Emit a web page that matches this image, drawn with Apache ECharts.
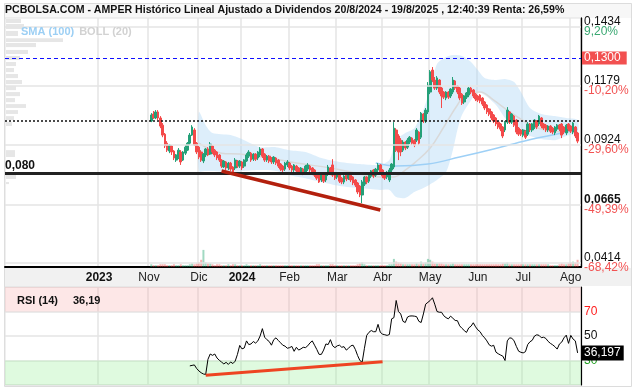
<!DOCTYPE html>
<html><head><meta charset="utf-8">
<script src="https://cdn.jsdelivr.net/npm/echarts@6/dist/echarts.min.js"></script>
<style>html,body{margin:0;padding:0;background:#fff}#c{width:636px;height:390px}</style>
</head><body><div id="c"></div>
<script>
// ---------------- DATA ----------------
const titleText = 'PCBOLSA.COM - AMPER Histórico Lineal Ajustado a Dividendos 20/8/2024 - 19/8/2025 , 12:40:39 Renta: 26,59%';
const slotCount = 254;                       // trading-day slots on the time axis
const monthStarts = [41, 63, 85, 104, 125, 146, 166, 187, 208, 228, 249];
const monthLabels = ['2023', 'Nov', 'Dic', '2024', 'Feb', 'Mar', 'Abr', 'May', 'Jun', 'Jul', 'Ago'];
const firstCandle = 64;
// [open, close, low, high]
const candles = [
[.1028,.1054,.1023,.1062],[.1058,.1041,.1036,.1071],[.1041,.1067,.1036,.1075],[.1067,.1041,.1032,.1075],
[.1041,.1006,.0997,.1049],[.1010,.0967,.0958,.1019],[.0971,.0920,.0911,.0976],[.0932,.0902,.0894,.0941],
[.0898,.0924,.0889,.0928],[.0920,.0894,.0881,.0924],[.0898,.0868,.0859,.0902],[.0859,.0881,.0851,.0885],
[.0872,.0902,.0863,.0911],[.0894,.0851,.0838,.0902],[.0859,.0894,.0855,.0898],[.0889,.0915,.0881,.0924],
[.0902,.0932,.0898,.0937],[.0932,.0967,.0924,.0976],[.0967,.1002,.0963,.1010],[.0989,.0924,.0920,.0997],
[.0932,.0894,.0885,.0937],[.0915,.0872,.0863,.0920],[.0894,.0859,.0851,.0902],[.0855,.0885,.0846,.0889],
[.0881,.0907,.0872,.0911],[.0907,.0881,.0876,.0915],[.0885,.0928,.0881,.0937],[.0920,.0894,.0885,.0924],
[.0902,.0881,.0872,.0907],[.0894,.0868,.0859,.0898],[.0881,.0859,.0851,.0885],[.0859,.0833,.0825,.0863],
[.0829,.0855,.0825,.0859],[.0851,.0825,.0816,.0855],[.0825,.0846,.0816,.0851],[.0846,.0820,.0812,.0851],
[.0829,.0807,.0799,.0833],[.0825,.0859,.0816,.0868],[.0855,.0833,.0825,.0859],[.0833,.0855,.0825,.0859],
[.0851,.0825,.0816,.0855],[.0833,.0859,.0825,.0863],[.0855,.0881,.0851,.0889],[.0876,.0894,.0868,.0902],
[.0889,.0859,.0851,.0894],[.0863,.0885,.0855,.0889],[.0885,.0863,.0855,.0889],[.0868,.0894,.0859,.0898],
[.0881,.0907,.0872,.0915],[.0907,.0876,.0868,.0911],[.0885,.0859,.0851,.0889],[.0859,.0876,.0851,.0881],
[.0876,.0855,.0846,.0881],[.0868,.0851,.0842,.0872],[.0851,.0872,.0842,.0876],[.0868,.0846,.0838,.0872],
[.0859,.0833,.0825,.0863],[.0842,.0820,.0812,.0846],[.0833,.0816,.0807,.0838],[.0820,.0846,.0812,.0851],
[.0838,.0851,.0829,.0859],[.0846,.0825,.0816,.0851],[.0833,.0816,.0807,.0838],[.0816,.0838,.0807,.0842],
[.0833,.0812,.0803,.0838],[.0825,.0807,.0799,.0829],[.0807,.0825,.0799,.0829],[.0820,.0803,.0794,.0825],
[.0807,.0833,.0799,.0838],[.0820,.0838,.0812,.0846],[.0833,.0816,.0807,.0838],[.0825,.0803,.0794,.0829],
[.0816,.0794,.0786,.0820],[.0803,.0781,.0773,.0807],[.0799,.0764,.0760,.0803],[.0773,.0799,.0764,.0803],
[.0799,.0768,.0760,.0803],[.0773,.0799,.0764,.0803],[.0799,.0829,.0790,.0838],[.0825,.0803,.0794,.0829],
[.0838,.0794,.0786,.0863],[.0803,.0781,.0773,.0807],[.0786,.0803,.0777,.0807],[.0803,.0768,.0760,.0807],
[.0781,.0764,.0755,.0786],[.0764,.0790,.0755,.0794],[.0794,.0777,.0768,.0799],[.0781,.0799,.0773,.0803],
[.0794,.0773,.0764,.0799],[.0786,.0760,.0751,.0790],[.0773,.0751,.0743,.0777],[.0760,.0721,.0712,.0764],
[.0747,.0708,.0699,.0751],[.0708,.0764,.0673,.0773],[.0755,.0786,.0747,.0790],[.0786,.0764,.0755,.0790],
[.0768,.0799,.0760,.0803],[.0790,.0812,.0781,.0816],[.0816,.0790,.0781,.0820],[.0794,.0820,.0786,.0825],
[.0816,.0838,.0807,.0846],[.0838,.0807,.0799,.0842],[.0816,.0790,.0781,.0820],[.0803,.0781,.0773,.0807],
[.0786,.0807,.0777,.0812],[.0773,.0816,.0764,.0825],[.0816,.0842,.0807,.0846],[.0829,.0997,.0820,.1023],
[.0989,.0902,.0894,.0997],[.0963,.0894,.0859,.0971],[.0945,.0894,.0876,.0954],[.0902,.0937,.0894,.0945],
[.0937,.0911,.0902,.0941],[.0915,.0945,.0907,.0954],[.0937,.0958,.0928,.0963],[.0954,.0932,.0924,.0958],
[.0945,.0924,.0915,.0950],[.0945,.0989,.0937,.0997],[.0980,.0932,.0924,.0984],[.0958,.1062,.0950,.1067],
[.1058,.1028,.1019,.1062],[.1028,.1075,.1019,.1084],[.1067,.1183,.1058,.1196],[.1153,.1240,.1144,.1248],
[.1248,.1205,.1196,.1261],[.1205,.1170,.1162,.1218],[.1170,.1214,.1162,.1222],[.1205,.1153,.1144,.1209],
[.1170,.1136,.1084,.1175],[.1153,.1131,.1123,.1157],[.1127,.1153,.1118,.1157],[.1153,.1131,.1123,.1157],
[.1136,.1166,.1127,.1170],[.1153,.1205,.1144,.1218],[.1201,.1170,.1162,.1205],[.1179,.1153,.1144,.1183],
[.1170,.1127,.1118,.1175],[.1144,.1105,.1097,.1149],[.1110,.1136,.1101,.1140],[.1131,.1149,.1123,.1153],
[.1140,.1170,.1131,.1175],[.1170,.1153,.1144,.1175],[.1162,.1136,.1127,.1166],[.1144,.1123,.1114,.1149],
[.1136,.1118,.1110,.1140],[.1140,.1114,.1105,.1144],[.1127,.1101,.1093,.1131],[.1110,.1084,.1075,.1114],
[.1097,.1067,.1058,.1101],[.1080,.1058,.1049,.1084],[.1067,.1041,.1032,.1071],[.1054,.1028,.1019,.1058],
[.1041,.1015,.1006,.1045],[.1023,.1002,.0993,.1028],[.1015,.0993,.0984,.1019],[.1002,.0963,.0954,.1006],
[.0989,.1023,.0980,.1028],[.1023,.1075,.1015,.1088],[.1067,.1023,.1015,.1071],[.1023,.1058,.1015,.1062],
[.1049,.1010,.1002,.1054],[.1032,.0980,.0971,.1036],[.0997,.0971,.0963,.1002],[.0989,.0971,.0963,.0993],
[.0967,.0989,.0958,.0993],[.0984,.0958,.0950,.0989],[.0971,.1015,.0963,.1023],[.1015,.0989,.0980,.1019],
[.0989,.1015,.0980,.1019],[.1002,.1032,.0993,.1036],[.1028,.1002,.0993,.1032],[.1015,.1049,.1006,.1054],
[.1041,.1006,.0997,.1045],[.1015,.0997,.0989,.1019],[.1010,.0989,.0980,.1015],[.0989,.1006,.0980,.1010],
[.1006,.0984,.0976,.1010],[.0997,.0980,.0971,.1002],[.0976,.1002,.0967,.1006],[.0993,.1010,.0984,.1015],
[.1010,.0993,.0984,.1015],[.1015,.0967,.0954,.1019],[.1002,.0980,.0971,.1006],[.0976,.1010,.0967,.1015],
[.1015,.0993,.0984,.1019],[.1006,.0984,.0976,.1010],[.0980,.1019,.0971,.1023],[.1002,.0963,.0954,.1006],
[.0976,.0941,.0932,.0980]
];
const volumes = [
3,2,2,2,3,3, 3,2,2,2,3,2,2,3,2,2, 2,3,4,3,4,5,8,19,5,4, 4,3,2,3,3,2,2,2,3,2,
3,3,2,2,2,2,3,2,2,2, 2,2,3,2,2,2,2,2,2,2, 2,2,2,2,2,2,2,2,2,2, 2,2,2,2,2,2,2,3,3,2,
2,2,2,3,3,2,2,2,2,2, 2,2,2,2,2,3,4,5,3,2, 2,2,2,2,2,2,2,2,2,3, 3,9,6,5,4,3,3,3,3,3,
3,4,3,6,4,5,9,8,6,4, 4,4,4,3,3,3,3,4,3,3, 3,3,3,3,3,3,3,3,3,3, 3,3,3,3,3,3,3,3,3,4,
4,5,3,3,3,3,3,3,3,3, 3,3,3,3,3,3,3,3,3,3, 2,2,2,2,3,4,3,3,4,5, 6,5,8
];
// Bollinger (20) and SMA (100), read at sample slots: [slot, price]
const bollUpper = [[85,.1067],[88,.1010],[91,.0976],[99,.0967],[105,.0945],[112,.0915],[119,.0915],[125,.0902],
[132,.0894],[139,.0868],[147,.0851],[156,.0842],[165,.0838],[169,.0859],[172,.0945],[176,.0976],[180,.0997],
[184,.1075],[187,.1170],[190,.1274],[194,.1304],[197,.1313],[201,.1309],[205,.1283],[208,.1248],[211,.1214],
[216,.1205],[220,.1209],[224,.1196],[227,.1153],[231,.1084],[236,.1058],[242,.1049],[247,.1041],[252,.1032]];
const bollLower = [[85,.0812],[88,.0812],[91,.0812],[99,.0807],[105,.0812],[112,.0816],[119,.0812],[125,.0794],
[132,.0781],[139,.0764],[147,.0747],[156,.0738],[165,.0730],[169,.0730],[172,.0699],[176,.0695],[180,.0721],
[184,.0738],[187,.0755],[190,.0773],[194,.0807],[197,.0902],[199,.0989],[201,.1054],[205,.1118],[208,.1153],
[211,.1140],[216,.1097],[220,.1041],[224,.1006],[227,.0980],[231,.0963],[236,.0950],[242,.0945],[247,.0963],[252,.0980]];
const bollMid = [[85,.0932],[95,.0889],[103,.0885],[116,.0868],[128,.0846],[143,.0825],[156,.0799],[165,.0786],
[171,.0786],[176,.0816],[180,.0846],[187,.0911],[193,.1002],[199,.1097],[203,.1144],[209,.1153],[215,.1118],
[221,.1075],[227,.1036],[232,.1006],[241,.0984],[252,.0980]];
const sma100 = [[163,.0846],[172,.0833],[186,.0842],[200,.0872],[215,.0907],[230,.0945],[245,.0976],[252,.0993]];
// RSI (14), one value per slot from rsiStart
const rsiStart = 81;
const rsi = [25.6,26.0,26.4,23.5,21.5,20.0,19.0,18.6,31.0,35.3,34.2,35.3,32.0,30.2,28.7,27.2,28.5,26.8,28.8,27.5,
29.5,35.0,42.3,39.5,40.2,46.0,43.0,43.5,45.5,44.2,46.0,50.0,56.0,49.0,47.0,45.5,42.5,47.0,48.5,46.4,
44.5,42.5,41.7,40.0,40.5,41.5,37.5,40.8,38.5,39.5,40.8,40.5,42.0,44.4,46.0,42.5,39.0,35.0,35.0,38.5,
43.5,43.0,47.0,42.0,40.5,42.0,42.5,40.8,41.3,38.5,40.0,42.0,42.5,39.0,34.0,30.0,28.5,40.0,50.5,53.0,
54.5,53.5,53.5,59.5,53.0,51.5,51.0,50.5,51.2,64.0,65.0,79.0,70.0,68.0,62.0,61.0,65.5,66.3,66.4,66.2,
65.8,62.0,61.0,68.0,76.0,77.5,79.0,81.2,76.0,70.0,69.4,69.4,66.5,65.0,64.0,66.2,64.5,62.7,62.5,58.3,
56.3,54.5,52.9,56.6,58.0,60.8,57.5,55.0,53.5,50.5,48.5,46.0,42.8,41.7,42.4,36.8,35.5,34.5,33.6,30.0,
46.0,48.5,48.2,46.0,41.5,37.6,36.7,36.2,37.2,43.0,45.3,46.5,50.0,51.0,50.5,48.6,49.0,48.0,45.6,44.0,
42.8,41.3,39.3,43.5,45.0,48.5,50.7,44.0,50.5,47.5,46.0,36.19];
const rsiLast = 36.197;
// volume profile by price: [low, high, volume]
const profLow  = [.1447,.1421,.1391,.1365,.1343,.1313,.1287,.1261,.1235,.1209,.1183,.1157,.1131,.1105,.1080,.1054,.1028,.1002,.0868,.0773,.0751];
const profHigh = [.1469,.1447,.1417,.1386,.1365,.1335,.1309,.1283,.1257,.1231,.1205,.1179,.1153,.1127,.1101,.1075,.1049,.1023,.0902,.0803,.0764];
const profVol  = [150,180,120,570,300,220,140,100,80,120,160,100,140,90,200,120,80,60,90,100,30];
// axis ticks
const priceMin = 0.0397, priceMax = 0.1473;
const priceTicks = [0.1434, 0.1179, 0.0924, 0.0665, 0.0414];
const priceTickText = ['0,1434', '0,1179', '0,0924', '0,0665', '0,0414'];
const pctTickText = ['9,20%', '-10,20%', '-29,60%', '-49,39%', '-68,42%'];
// levels and trend lines
const levelBlue = 0.1300, levelBlack = 0.080, levelDotted = 0.1028;
const trendPrice = [[95, 0.0812], [165, 0.0643]];
const trendRsi = [[88, 18.0], [166, 29.0]];

// ---------------- CHART ----------------
const slots = Array.from({length: slotCount}, (_, i) => String(i));
const isMonth = (i) => monthStarts.indexOf(i) >= 0;
const UP = '#24a078', DOWN = '#f44a4a';
const FONT = 'Liberation Sans';

const chart = echarts.init(document.getElementById('c'), null, {renderer: 'canvas', devicePixelRatio: 1});
const candleData = candles.map((c, k) => [firstCandle + k, c[0], c[1], c[2], c[3]]);
const volData = volumes.map((v, k) => [firstCandle + k, v]);
const rsiData = rsi.map((v, k) => [rsiStart + k, v]);
const profData = profLow.map((l, k) => [l, profHigh[k], profVol[k]]);

const gridLineStyle = {color: '#e4e4e4', width: 1.5};
const hiddenAxis = {show: false, axisLine: {show: false, onZero: false}, axisTick: {show: false}, axisLabel: {show: false}, splitLine: {show: false}};

const option = {
  animation: false,
  backgroundColor: '#fff',
  textStyle: {fontFamily: FONT},
  graphic: [
    {type: 'rect', z: -10, silent: true, shape: {x: 4, y: 3, width: 628, height: 15}, style: {fill: '#f7f7f7'}},
    {type: 'rect', z: -10, silent: true, shape: {x: 4, y: 268, width: 628, height: 18}, style: {fill: '#f1f1f1'}},
    {type: 'rect', z: -10, silent: true, shape: {x: 4.5, y: 3.5, width: 627, height: 383}, style: {fill: 'none', stroke: '#dcdcdc', lineWidth: 1}}
  ],
  title: [
    {text: titleText, left: 5, top: 5, padding: 0,
     textStyle: {fontFamily: FONT, fontSize: 10.6, fontWeight: 'bold', color: '#111'}},
    {text: '{a|SMA (100)} {b|BOLL (20)}', left: 21, top: 23, padding: 0,
     textStyle: {rich: {a: {fontFamily: FONT, fontSize: 11, fontWeight: 'bold', color: '#9ccff4'},
                        b: {fontFamily: FONT, fontSize: 11, fontWeight: 'bold', color: '#d2d2d2'}}}},
    {text: '{a|RSI (14)}   {a|36,19}', left: 17, top: 292, padding: 0,
     textStyle: {rich: {a: {fontFamily: FONT, fontSize: 11, fontWeight: 'bold', color: '#111'}}}}
  ],
  grid: [
    {left: 5, top: 18, width: 576, height: 249, show: true, borderColor: '#e0e0e0', borderWidth: 1, backgroundColor: 'transparent'},
    {left: 5, top: 240, width: 576, height: 27},
    {left: 5, top: 287, width: 576, height: 98, show: true, borderColor: '#e0e0e0', borderWidth: 1},
    {left: 5, top: 18, width: 576, height: 249}
  ],
  xAxis: [
    {type: 'category', gridIndex: 0, data: slots, boundaryGap: true,
     axisLine: {onZero: false, lineStyle: {color: '#000', width: 2}}, axisTick: {show: false},
     splitLine: {show: true, interval: (i) => isMonth(i), lineStyle: gridLineStyle},
     axisLabel: {interval: (i) => isMonth(i), margin: 5, fontSize: 12, color: '#222', fontFamily: FONT,
       formatter: (v) => { const k = monthStarts.indexOf(+v); if (k < 0) return '';
         return /^\d{4}$/.test(monthLabels[k]) ? '{y|' + monthLabels[k] + '}' : monthLabels[k]; },
       rich: {y: {fontWeight: 'bold', fontSize: 12, color: '#111', fontFamily: FONT}}}},
    Object.assign({type: 'category', gridIndex: 1, data: slots}, hiddenAxis),
    {type: 'category', gridIndex: 2, data: slots, boundaryGap: true,
     axisLine: {show: false}, axisTick: {show: false}, axisLabel: {show: false},
     splitLine: {show: true, interval: (i) => isMonth(i), lineStyle: gridLineStyle}},
    Object.assign({type: 'value', gridIndex: 3, min: 0, max: 5760}, hiddenAxis)
  ],
  yAxis: [
    {type: 'value', gridIndex: 0, position: 'right', min: priceMin, max: priceMax,
     axisLine: {show: true, onZero: false, lineStyle: {color: '#000', width: 1.2}}, axisTick: {show: false},
     splitLine: {show: false},
     axisLabel: {customValues: priceTicks, margin: 3, fontFamily: FONT,
       formatter: (v) => { let k = 0, best = 1;
         priceTicks.forEach((t, j) => { if (Math.abs(t - v) < best) { best = Math.abs(t - v); k = j; } });
         return '{' + (k === 3 ? 'pb' : 'p') + '|' + priceTickText[k] + '}\n{' + (k === 0 ? 'g' : 'r') + '|' + pctTickText[k] + '}'; },
       rich: {p: {fontSize: 12, color: '#111', lineHeight: 10, fontFamily: FONT},
              pb: {fontSize: 12, color: '#111', lineHeight: 10, fontWeight: 'bold', fontFamily: FONT},
              g: {fontSize: 12, color: '#3aa872', lineHeight: 10, fontFamily: FONT},
              r: {fontSize: 12, color: '#f25252', lineHeight: 10, fontFamily: FONT}}}},
    Object.assign({type: 'value', gridIndex: 1, min: 0, max: 30}, hiddenAxis),
    {type: 'value', gridIndex: 2, position: 'right', min: 10, max: 90, interval: 20,
     axisLine: {show: true, onZero: false, lineStyle: {color: '#000', width: 1.2}}, axisTick: {show: false},
     splitLine: {show: true, lineStyle: gridLineStyle},
     axisLabel: {margin: 3, fontSize: 12, fontFamily: FONT,
       formatter: (v) => v === 70 ? '{r|70}' : v === 50 ? '{k|50}' : v === 30 ? '{g|30}' : '',
       rich: {r: {color: '#ff1c1c', fontSize: 12, fontFamily: FONT}, k: {color: '#111', fontSize: 12, fontFamily: FONT},
              g: {color: '#22a022', fontSize: 12, fontFamily: FONT}}}},
    {type: 'value', gridIndex: 3, position: 'right', min: priceMin, max: priceMax,
     axisLine: {show: true, onZero: false, lineStyle: {color: '#000', width: 1.2}},
     axisTick: {show: false}, axisLabel: {show: false}, splitLine: {show: false}}
  ],
  series: [
    // price grid lines
    {type: 'line', xAxisIndex: 0, yAxisIndex: 0, data: [], z: 2, silent: true,
     markLine: {silent: true, symbol: ['none', 'none'], animation: false, precision: 4,
       data: priceTicks.map((v) => ({yAxis: v, lineStyle: {color: '#e4e4e4', width: 1.5, type: 'solid'}, label: {show: false}}))}},
    // volume profile (own overlay grid)
    {type: 'custom', xAxisIndex: 3, yAxisIndex: 3, z: 2, silent: true, data: profData,
     encode: {x: 2, y: [0, 1]},
     renderItem: (params, api) => {
       const a = api.coord([0, api.value(1)]); const b = api.coord([api.value(2), api.value(0)]);
       return {type: 'rect', shape: {x: a[0] + 1, y: a[1], width: b[0] - a[0], height: b[1] - a[1] - 1},
               style: {fill: '#e6e6e6'}};
     }},
    // Bollinger band
    {type: 'custom', xAxisIndex: 0, yAxisIndex: 0, z: 2, silent: true, data: [bollUpper[0]],
     renderItem: (params, api) => {
       const pts = bollUpper.map((p) => api.coord(p)).concat(bollLower.slice().reverse().map((p) => api.coord(p)));
       return {type: 'polygon', shape: {points: pts, smooth: 0.25}, style: {fill: 'rgba(170,212,245,0.40)'}};
     }},
    {type: 'line', xAxisIndex: 0, yAxisIndex: 0, data: bollMid, showSymbol: false, smooth: 0.4, z: 2,
     lineStyle: {color: '#d9d9d9', width: 1.5}, silent: true},
    {type: 'line', xAxisIndex: 0, yAxisIndex: 0, data: sma100, showSymbol: false, smooth: 0.4, z: 2,
     lineStyle: {color: '#9ed0f6', width: 1.5}, silent: true},
    // volume bars
    {type: 'bar', xAxisIndex: 1, yAxisIndex: 1, data: volData, barWidth: 2, z: 2, silent: true,
     itemStyle: {color: (p) => { const c = candles[p.dataIndex]; return c[1] >= c[0] ? 'rgba(46,170,120,0.45)' : 'rgba(240,80,80,0.45)'; }}},
    // candles
    {type: 'candlestick', xAxisIndex: 0, yAxisIndex: 0, data: candleData, encode: {x: 0, y: [1, 2, 3, 4]},
     barWidth: 2.2, z: 3,
     itemStyle: {color: UP, color0: DOWN, borderColor: UP, borderColor0: DOWN, borderWidth: 1}},
    // levels and trend line
    {type: 'line', xAxisIndex: 0, yAxisIndex: 0, data: [], z: 4, silent: true,
     markLine: {silent: true, symbol: ['none', 'none'], animation: false, precision: 4,
       data: [
         {yAxis: levelBlue, lineStyle: {color: '#1010ff', width: 1, type: [4, 3]},
          label: {show: true, position: 'end', distance: 1, formatter: '0,1300', color: '#fff', fontSize: 12,
                  fontFamily: FONT, backgroundColor: '#f25050', padding: [1, 6, 0, 2]}},
         {yAxis: levelBlack, lineStyle: {color: '#222', width: 3, type: 'solid'},
          label: {show: true, position: 'insideStartTop', distance: [0, 2], formatter: '0,080', color: '#111',
                  fontSize: 12, fontWeight: 'bold', fontFamily: FONT}},
         {yAxis: levelDotted, lineStyle: {color: '#111', width: 1.5, type: [2, 2]}, label: {show: false}},
         [{coord: trendPrice[0], lineStyle: {color: '#b3200e', width: 3.5, type: 'solid'}, label: {show: false}},
          {coord: trendPrice[1]}]
       ]}},
    // RSI
    {type: 'line', xAxisIndex: 2, yAxisIndex: 2, data: rsiData, showSymbol: false, z: 3,
     lineStyle: {color: '#000', width: 1}, silent: true,
     markArea: {silent: true, data: [
       [{yAxis: 70, itemStyle: {color: 'rgba(248,160,160,0.25)'}}, {yAxis: 90}],
       [{yAxis: 10, itemStyle: {color: 'rgba(150,240,150,0.30)'}}, {yAxis: 30}]]},
     markLine: {silent: true, symbol: ['none', 'none'], animation: false, precision: 4, data: [
       [{coord: trendRsi[0], lineStyle: {color: '#ee4422', width: 3, type: 'solid'}, label: {show: false}},
        {coord: trendRsi[1]}],
       {yAxis: rsiLast, lineStyle: {color: 'rgba(0,0,0,0)', width: 1},
        label: {show: true, position: 'end', distance: 0, formatter: '36,197', color: '#fff', fontSize: 12,
                fontFamily: FONT, backgroundColor: '#000', padding: [2, 3, 1, 3]}}]}}
  ]
};
chart.setOption(option);
</script></body></html>
